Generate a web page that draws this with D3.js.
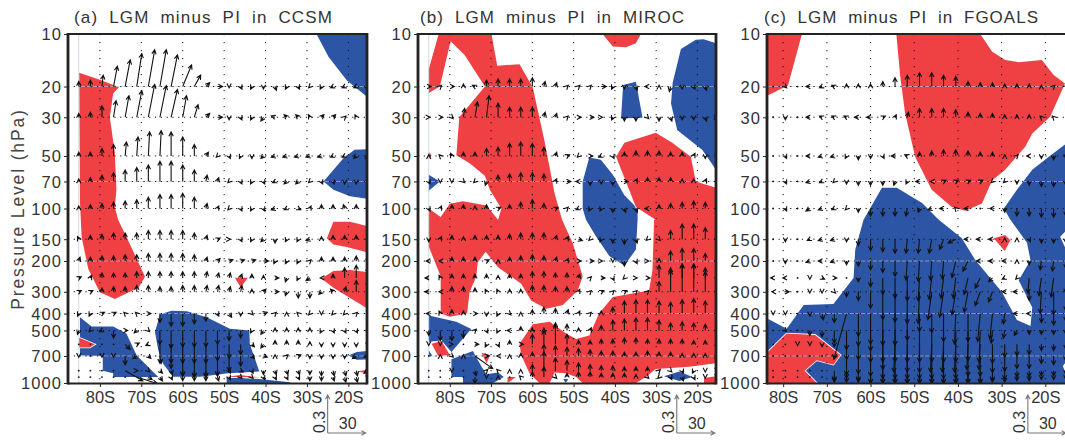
<!DOCTYPE html>
<html><head><meta charset="utf-8">
<script src="https://cdn.jsdelivr.net/npm/d3@7/dist/d3.min.js"></script>
<style>html,body{margin:0;padding:0;background:#fff;overflow:hidden}</style>
</head><body><svg id="chart" width="1065" height="443"></svg>
<script>
const lats=[-85.1,-82.3,-79.5,-76.7,-73.9,-71.1,-68.3,-65.5,-62.8,-60,-57.2,-54.4,-51.6,-48.8,-46,-43.3,-40.5,-37.7,-34.9,-32.1,-29.3,-26.5,-23.7,-20.9,-18.1,-15.3];
const vecLevels=[20,30,50,70,100,150,200,250,300,400,500,600,700,850,925];
const pTicks=[10,20,30,50,70,100,150,200,300,400,500,700,1000];
const latTicks=[-80,-70,-60,-50,-40,-30,-20];
const faintLevels=[20,70,200,400,700];
const titles=["(a) LGM minus PI in CCSM","(b) LGM minus PI in MIROC","(c) LGM minus PI in FGOALS"];

/* polygons: [lat, hPa] */
const aRed=[
[[-85,16.7],[-80,18.3],[-75.4,20.2],[-76.8,21.9],[-77.6,30],[-76.4,48],[-76,78],[-76.4,98],[-75.6,116],[-73.2,152],[-69.1,246],[-70.7,285],[-76.4,330],[-80,302],[-82.8,222],[-84.4,146],[-84.8,93]],
[[-23.6,119],[-19.6,119],[-15.5,126],[-15.5,178],[-20.4,166],[-23.6,161],[-25.2,148]],
[[-15.5,373],[-18.8,334],[-23.6,285],[-26.5,252],[-23.6,228],[-19.6,225],[-15.5,231]],
[[-47.4,249],[-44.3,249],[-46,284]],
[[-85,550],[-81.2,600],[-82.4,625],[-85,625]],
[[-49.4,925],[-46.2,899],[-41.2,930],[-46.2,925]],
[[-17.9,860],[-15.5,840],[-15.5,880]]];
const aBlue=[
[[-27.7,10],[-24.8,13.5],[-20.4,18.4],[-15.5,22.9],[-15.5,10]],
[[-15.5,45.8],[-18.5,46],[-21.2,51.5],[-26,70],[-23.6,78],[-19.6,85],[-15.5,88]],
[[-84.8,420],[-82,475],[-76.8,475],[-73.6,520],[-71.1,695],[-65.9,925],[-76.8,925],[-76.8,880],[-79.3,850],[-79.3,700],[-84.8,695],[-84.8,620]],
[[-65.5,405],[-62.7,385],[-59,388],[-54.2,420],[-48.6,488],[-43.9,500],[-43.8,597],[-41.5,860],[-49,880],[-55.8,920],[-62.3,920],[-64.7,778],[-65.9,650],[-66.7,510]],
[[-49.4,925],[-41.4,950],[-34.1,990],[-34,1000],[-49.4,1000]],
[[-20,695],[-18,665],[-15.5,655],[-15.5,733],[-18,735]]];
const bRed=[
[[-85.1,21.8],[-85.1,16],[-82.7,10],[-69.9,10],[-68.5,15.2],[-63.1,14.9],[-59.9,20.2],[-57.1,40.5],[-54.6,82],[-52.8,116],[-50.2,158],[-47.8,245],[-49,295],[-52.6,357],[-56.6,376],[-60.3,337],[-62.7,270],[-68.3,217],[-71.3,177],[-73.2,203],[-73.6,245],[-75.2,302],[-75.8,400],[-80,417],[-82.2,400],[-82.2,245],[-85.1,165],[-85.1,100],[-82.2,112],[-80,94],[-76.8,91],[-71.1,96],[-68.3,116],[-67.5,100],[-70.3,78],[-71.5,65],[-75.2,55],[-78.4,49.5],[-77.7,30],[-71.5,20],[-76.4,13.2],[-79.8,11],[-82.4,20]],
[[-85.1,47.5],[-84.4,49.5],[-85.1,52]],
[[-43,10],[-40.5,11.8],[-37.3,11.9],[-34.9,11.3],[-33.7,10]],
[[-39.7,50.5],[-37.7,42],[-30.1,36.8],[-26.1,42],[-21.6,50.5],[-20.4,70],[-15.5,76],[-15.5,770],[-22,808],[-30.1,830],[-32.5,925],[-34.9,1000],[-47.8,1000],[-49.4,925],[-51.8,880],[-54.6,870],[-55.8,1000],[-58.3,1000],[-60.7,880],[-62.7,690],[-63.1,595],[-59.9,460],[-55.8,445],[-51.8,520],[-49.4,560],[-46.2,535],[-43.8,398],[-40.5,322],[-31.7,295],[-30.9,226],[-30.5,116],[-30.1,116],[-34.9,98]],
[[-84.4,595],[-82,575],[-80,690],[-82.8,700]],
[[-72.3,670],[-70.2,690],[-71.1,770]],
[[-66,925],[-64,925],[-66,1000]],
[[-18.4,935],[-15.5,915],[-15.5,1000],[-18.4,1000]]];
const bBlue=[
[[-15.5,11.3],[-18.5,10.7],[-20.4,10.8],[-24,12.2],[-26,19],[-26.4,25],[-24.9,35.5],[-18.8,46.2],[-15.5,60]],
[[-38,19.6],[-34.9,18.8],[-33.3,30.2],[-38.5,30.5]],
[[-46.2,51],[-43.4,52.5],[-40.5,64],[-37.7,84],[-34.5,100],[-34.5,116],[-34.9,172],[-37.7,212],[-41.3,188],[-44.6,144],[-47,116],[-47.8,100],[-47.8,70]],
[[-85.1,64],[-82.4,70],[-85.1,79]],
[[-85.1,410],[-78.4,445],[-74.8,490],[-79.6,665],[-82,570],[-85.1,580]],
[[-85.1,650],[-84.2,700],[-85.1,700]],
[[-79.6,730],[-74.4,655],[-72.3,808],[-71.1,890],[-68.3,870],[-66.9,925],[-69.5,1000],[-76.8,1000],[-76.8,925],[-79.6,925]],
[[-52.5,950],[-51.3,950],[-51.9,1000]],
[[-28.1,915],[-24.4,860],[-21.2,925],[-24.4,975]]];
const cRed=[
[[-83.7,10],[-75.7,10],[-78.9,19.7],[-83.7,22.6]],
[[-54.1,10],[-34.9,10],[-32.2,12.6],[-29.2,14.1],[-26.1,14.5],[-20.8,14.1],[-18.1,17.2],[-15.5,19.2],[-18.9,29.8],[-23,37.2],[-24.6,44.3],[-29.2,60],[-32.2,69],[-34.5,93.5],[-38.3,103],[-41.4,98],[-46,78],[-49.8,50.5],[-52.1,28.5],[-53.2,17.6]],
[[-31.8,148],[-29.2,142],[-28,152],[-29.3,175]],
[[-83.7,670],[-79.2,520],[-72.7,530],[-66.9,690],[-68.5,785],[-72.3,740],[-75.1,850],[-72.3,1000],[-83.7,1000]]];
const cBlue=[
[[-57.4,76],[-54,76],[-48.2,93],[-44.4,116],[-39.1,148],[-36,198],[-29.9,302],[-26.5,435],[-23.4,472],[-23,369],[-26.1,258],[-23.4,198],[-24.2,157],[-28,116],[-29.5,100],[-26.5,78],[-23,60],[-19.2,50.5],[-15.5,43],[-15.5,1000],[-83.7,1000],[-83.7,660],[-83.4,430],[-79.2,488],[-75.3,357],[-68.5,353],[-63.9,250],[-63.5,172],[-61.6,116]]];
const cWhite=[[[-16.6,145],[-15.5,136],[-15.5,167]],[[-16,800],[-15.5,770],[-15.5,860]]];

/* arrows: w in 0.01 units, u in the unit of the "30" key; one row per level */
const aW=[
[4,5,9,16,21,26,29,29,25,17,9,3,0,-1,-2,-2,-2,-3,-2,-2,-1,-2,-1,-1,-1,-1],
[3,4,9,13,17,21,26,25,22,17,10,3,0,-2,-2,-2,-3,1,2,2,2,2,2,1,2,2],
[3,3,6,9,11,15,19,20,19,15,9,3,-1,-2,-2,-2,-2,-1,-1,-1,-1,-1,-1,-1,-2,-2],
[2,3,5,7,9,11,13,16,16,13,9,5,3,-1,-2,-2,-2,-1,-2,-2,-1,-2,-2,-2,-2,-2],
[2,3,4,5,6,7,9,11,11,12,9,4,2,-1,-2,-2,-2,-1,-1,-1,2,3,3,3,3,3],
[2,3,4,5,5,5,7,7,7,7,5,3,1,0,-2,-2,-2,-3,-2,-2,-1,2,3,3,3,3],
[3,3,4,4,5,5,6,6,6,6,5,3,2,1,1,1,0,-2,-2,-2,1,3,3,3,4,4],
[1,2,4,4,4,5,5,5,5,5,5,5,4,4,3,3,2,0,-3,-2,-2,0,3,8,10,9],
[1,1,3,4,4,5,5,4,4,5,5,5,5,4,5,2,2,0,-3,-5,-5,-2,2,4,9,9],
[-2,-2,1,1,1,1,0,-7,-10,-10,-8,-6,-2,-3,-2,-1,1,1,1,1,-1,-1,-1,-1,1,0],
[-3,-1,-1,-6,0,-2,-1,-11,-14,-13,-13,-13,-11,-8,-6,-2,-3,2,2,2,2,-2,-2,-2,-2,-2],
[0,0,0,0,-4,1,-1,-15,-15,-15,-15,-15,-13,-11,-8,-2,-3,3,3,3,2,-2,-2,-2,-2,-2],
[-1,0,-1,-1,-7,-2,-2,-6,-10,-16,-17,-17,-16,-12,-8,-2,-1,1,1,1,-2,-2,-2,-2,-2,-1],
[0,0,0,0,-8,0,-1,-2,-3,-4,-5,-5,-4,-2,-1,-2,-3,-3,-3,-3,-3,-4,-4,-4,-4,-2],
[0,0,0,0,0,-5,-2,-3,-2,-3,-3,-3,-3,-2,-1,-1,-2,-2,-2,-2,-3,-3,-3,-4,-4,-2]];
const aU=[
[0,0,1,3,4,4,5,5,5,7,5,3,4,0,1,-1,0,1,-1,1,-1,-1,-2,-2,-2,-2],
[0,0,0,2,3,4,5,5,5,3,3,3,4,0,1,-1,-2,-3,-2,-2,-1,2,2,1,-1,-1],
[0,0,0,0,1,1,1,1,0,0,0,2,-1,1,-1,0,-2,-3,-3,-3,-3,-3,-2,-2,-2,-2],
[0,0,0,0,0,0,0,0,0,0,0,1,1,-1,1,-1,1,-2,-2,-2,-1,1,1,0,0,-1],
[0,0,0,0,0,0,0,0,0,0,0,1,1,-1,1,-1,1,-3,-2,2,1,0,0,-1,0,0],
[-1,0,0,0,0,0,0,0,0,0,0,1,2,1,1,-1,-2,0,-1,-1,-3,0,0,0,0,0],
[1,0,0,0,0,0,0,0,0,0,0,1,2,3,3,3,4,-1,-1,-1,1,0,0,0,0,0],
[2,1,0,0,0,0,0,0,0,0,0,1,1,1,1,0,0,3,-1,-1,-3,-1,0,0,0,0],
[2,2,0,0,0,0,0,0,0,0,0,1,1,1,1,0,2,3,-1,0,0,-2,-2,1,0,0],
[-1,-1,2,2,-1,-1,2,0,0,0,0,0,1,2,0,1,3,1,0,-1,-1,0,-1,-1,1,0],
[-1,-1,-2,0,2,-2,1,0,0,0,0,0,0,0,0,-1,-2,0,0,0,0,-1,1,1,1,1],
[0,0,0,0,4,2,-2,0,0,0,0,0,0,0,0,2,-2,0,0,0,0,0,0,0,0,0],
[0,0,0,0,0,-3,2,1,0,0,0,0,0,0,0,2,3,0,1,2,0,0,0,0,-3,-3],
[0,0,0,0,14,1,1,2,1,0,0,0,0,1,2,1,0,1,1,1,0,0,1,1,1,-3],
[0,0,0,0,0,16,3,2,1,0,0,0,1,1,1,1,1,1,1,1,0,0,1,1,1,0]];
const bW=[
[0,1,0,2,1,5,6,6,6,7,4,3,1,1,1,0,-2,-2,-3,0,1,-4,-2,-2,-3,-2],
[0,0,-1,7,12,17,11,8,8,8,4,3,1,0,0,0,-2,-3,-3,-1,-3,-3,-2,-2,-3,0],
[1,1,2,3,3,6,7,10,11,10,7,3,1,-1,0,-1,-2,3,4,4,4,3,3,2,-2,-1],
[-2,-1,-1,-1,-1,-3,5,6,7,7,6,2,0,0,-3,-2,-3,0,2,3,3,3,2,2,2,0],
[-2,2,3,3,2,3,1,3,5,7,4,1,1,-1,-2,-2,-3,-3,-3,0,3,4,5,6,5,3],
[-2,2,3,2,3,3,3,4,5,5,5,3,2,-1,-1,-2,-3,-4,-3,-1,-1,7,12,12,9,3],
[0,0,3,3,3,1,1,3,4,5,4,3,2,0,0,0,-1,-4,-2,0,2,8,10,10,6,3],
[0,2,3,3,3,3,2,3,3,5,5,4,4,3,1,0,-2,-1,0,0,10,8,11,11,8,3],
[0,0,4,4,3,2,2,2,2,5,5,4,4,2,1,1,1,1,1,1,8,17,22,22,16,3],
[0,2,3,2,0,-2,-2,-1,1,3,5,4,3,2,1,2,5,10,11,11,10,9,11,12,10,3],
[-4,-8,-8,-6,1,-2,-2,0,3,2,2,5,5,2,2,4,8,9,10,10,8,6,7,6,5,3],
[-1,-1,0,0,0,-2,-2,3,0,8,11,17,8,3,3,4,4,5,5,4,4,4,4,3,3,2],
[0,1,-1,1,-10,0,0,1,2,3,9,8,7,6,5,4,4,3,3,4,3,3,2,2,2,1],
[0,0,-1,0,-4,1,1,1,1,5,15,10,8,6,5,4,4,3,3,3,1,-1,-2,-2,-1,-1],
[0,0,0,0,-5,-1,1,0,1,4,8,-1,3,4,4,3,3,3,2,-1,-1,-2,-3,-2,-1,-1]];
const bU=[
[2,1,2,0,-2,0,0,0,0,0,1,1,1,1,1,4,-1,0,1,-2,0,-1,0,1,1,0],
[1,2,1,1,2,2,0,0,0,0,1,1,1,2,3,1,-1,0,0,1,0,1,0,0,1,1],
[0,-1,-1,0,0,0,0,0,0,0,0,1,2,-1,2,-2,1,0,0,0,0,0,0,1,0,0],
[1,0,0,1,-1,-1,0,0,0,0,0,1,3,-2,0,0,0,3,1,0,0,0,0,0,1,0],
[1,1,0,0,0,0,2,0,0,0,0,2,1,-2,-1,-1,0,1,1,-2,0,0,0,0,0,0],
[0,1,0,0,0,0,0,0,0,0,0,1,1,3,-1,-1,0,0,1,-1,1,0,0,0,0,0],
[-2,-1,0,0,0,2,0,0,0,0,0,1,1,2,3,1,0,0,1,1,0,0,0,0,0,0],
[-3,-1,0,0,0,0,0,0,0,0,0,0,0,1,1,3,1,-1,1,2,0,0,0,0,0,0],
[-3,-1,0,0,0,-1,-1,0,0,0,0,0,0,1,1,2,1,2,1,1,0,0,0,0,0,0],
[-2,-1,0,0,2,0,-1,1,0,0,0,0,1,1,1,0,0,0,0,0,0,0,0,0,0,0],
[0,0,0,0,1,1,-1,-2,0,0,0,0,0,0,1,0,0,0,0,0,0,0,0,0,0,0],
[0,0,1,0,3,-1,1,0,2,0,0,0,0,0,0,0,0,0,0,0,0,0,0,0,0,0],
[0,0,1,0,14,2,-1,0,0,0,0,0,0,0,0,0,0,0,0,0,0,0,0,0,0,0],
[0,0,0,0,1,1,-1,0,0,0,0,0,0,0,0,0,0,0,0,0,1,1,1,-1,0,0],
[0,0,0,0,0,0,0,0,-1,0,0,1,0,0,0,0,0,0,0,1,-1,1,1,1,0,0]];
const cW=[
[0,0,-1,0,0,-1,1,2,2,2,4,7,9,11,11,9,8,4,3,3,2,2,2,1,1,1],
[0,0,-2,0,0,1,1,1,0,0,1,2,4,7,7,7,6,4,3,3,2,2,2,1,1,0],
[0,0,-2,0,0,-1,-1,-2,-3,-2,-2,0,1,3,4,5,5,4,3,3,1,1,0,-2,-3,-2],
[0,0,-2,0,-1,-1,-1,-2,-3,-3,-3,-3,-2,0,0,1,1,1,1,-1,-1,-2,-3,-4,-4,-3],
[0,0,-2,0,-2,-1,-1,-1,-3,-6,-6,-6,-6,-3,-1,0,1,0,0,0,-3,-6,-6,-7,-7,-6],
[0,0,-2,0,-1,-1,-1,-2,-5,-9,-10,-11,-11,-11,-11,-8,-3,0,0,0,1,1,-2,-3,-3,-3],
[0,0,-2,0,-1,0,-1,-3,-4,-7,-9,-12,-15,-16,-15,-14,-13,-8,0,0,0,1,-3,-7,-8,-6],
[0,0,0,0,-1,-1,0,0,-3,-7,-13,-16,-18,-18,-17,-16,-16,-13,-8,-3,-1,-1,-12,-14,-15,-12],
[0,0,0,0,-1,-1,-1,-4,-7,-13,-22,-24,-25,-25,-22,-20,-18,-16,-11,-8,0,0,-7,-17,-18,-15],
[0,-1,-1,0,-2,-5,-7,-36,-18,-24,-25,-25,-21,-14,-15,-22,-24,-22,-22,-20,-8,0,0,-7,-9,-6],
[0,0,-1,0,-4,-5,-10,-15,-12,-16,-25,-25,-25,-25,-25,-25,-25,-24,-25,-10,-6,-4,-3,-3,-3,-3],
[0,0,0,-1,-1,-2,-2,-12,-12,-14,-20,-22,-22,-22,-22,-22,-22,-20,-20,-15,-10,-9,-8,-5,-5,-4],
[0,0,0,0,0,0,-2,-15,-14,-16,-18,-18,-18,-18,-18,-18,-18,-16,-16,-13,-12,-10,-10,-6,-7,-4],
[0,0,0,0,0,0,-8,-6,-8,-10,-10,-10,-10,-10,-10,-10,-10,-10,-10,-8,-7,-5,-5,-4,-4,-3],
[0,0,0,0,0,0,-4,-4,-4,-5,-5,-5,-5,-5,-5,-5,-5,-5,-5,-4,-4,-3,-3,-2,-2,-2]];
const cU=[
[0,0,1,0,-3,-2,-2,0,0,0,0,0,0,0,0,0,0,0,0,0,0,0,0,0,1,1],
[0,0,0,0,-3,-2,-2,-2,-3,-3,2,1,1,0,0,0,0,0,0,0,0,0,0,-1,-1,0],
[0,0,1,0,-3,-3,-3,-1,0,0,1,-3,-2,0,0,0,0,0,0,0,0,1,-2,0,0,0],
[0,0,1,0,-3,-2,-1,0,0,0,0,-1,-1,-3,-1,2,2,2,2,-1,-1,0,0,0,0,0],
[0,0,1,0,-3,-3,-2,-1,0,0,0,0,-1,-1,-3,-3,-1,-3,0,-2,0,0,0,0,0,0],
[0,0,0,0,-2,-3,-3,0,0,0,0,0,-1,-1,-2,-3,-6,-3,-3,-3,0,0,1,0,0,0],
[0,0,0,0,-3,-3,-3,0,0,0,0,0,-1,-1,-1,-1,-3,-4,-3,-3,-2,0,0,-1,-1,0],
[0,-2,-2,0,0,2,2,0,0,0,0,0,0,-1,-2,-2,-2,-3,-4,-3,-2,-1,-1,-2,-2,0],
[0,-1,3,0,0,0,1,0,0,0,0,0,0,-1,-3,-3,-3,-3,-4,-3,-2,-3,0,-1,0,0],
[0,0,0,0,0,1,0,-10,0,0,0,0,0,0,0,0,-1,0,-2,-2,-1,-3,-2,0,0,0],
[0,0,1,0,0,0,0,0,0,0,0,0,0,0,0,0,0,0,-1,-1,-1,-2,0,0,0,0],
[0,0,0,0,0,0,0,0,0,0,0,-1,0,0,-1,-1,-1,-1,-1,0,0,0,0,0,0,0],
[0,0,0,0,0,0,0,0,0,0,0,0,0,0,0,0,0,0,0,0,0,0,0,0,0,0],
[0,0,0,0,0,0,0,0,0,0,0,0,0,0,0,0,0,0,0,0,0,0,0,0,0,0],
[0,0,0,0,0,0,0,0,0,0,0,0,0,0,0,0,0,0,0,0,0,0,0,0,0,0]];

const RED="#EF4044",BLUE="#2C55A5",INK="#222";
const svg=d3.select("#chart");
const y=d3.scaleLog().domain([10,1000]).range([34,383]);
const vec=d3.scaleLinear().domain([0,30]).range([0,38]);

function arrow(g,x0,y0,x1,y1,col,sw){
  const a=Math.atan2(y1-y0,x1-x0),L=4.8,t=0.47;
  const p=`M${x0},${y0}L${x1},${y1}M${x1-L*Math.cos(a-t)},${y1-L*Math.sin(a-t)}L${x1},${y1}L${x1-L*Math.cos(a+t)},${y1-L*Math.sin(a+t)}`;
  g.append("path").attr("d",p).attr("fill","none").attr("stroke",col).attr("stroke-width",sw);
}

function panel(i,cfg){
  const x=d3.scaleLinear().domain(cfg.dom).range(cfg.rng);
  const clipId="clip"+i;
  svg.append("clipPath").attr("id",clipId).append("rect")
    .attr("x",cfg.rng[0]).attr("y",34).attr("width",cfg.rng[1]-cfg.rng[0]).attr("height",349);
  const g=svg.append("g").attr("clip-path",`url(#${clipId})`);
  const line=d3.line().x(d=>x(d[0])).y(d=>y(d[1])).curve(d3.curveLinear);
  g.selectAll(".b").data(cfg.blue).enter().append("path").attr("d",d=>line(d)+"Z").attr("fill",BLUE);
  g.selectAll(".w").data(cfg.white||[]).enter().append("path").attr("d",d=>line(d)+"Z").attr("fill","#fff");
  g.selectAll(".r").data(cfg.red).enter().append("path").attr("d",d=>line(d)+"Z").attr("fill",RED).attr("stroke","#fff").attr("stroke-width",1.6).attr("paint-order","stroke");
  // faint solid lines
  g.selectAll(".fl").data(faintLevels).enter().append("line").attr("x1",x(-85.1)).attr("x2",cfg.rng[1])
    .attr("y1",d=>y(d)).attr("y2",d=>y(d)).attr("stroke","#c3cfe2").attr("stroke-width",0.7).attr("stroke-opacity",0.8);
  g.append("line").attr("x1",x(-85.1)).attr("x2",x(-85.1)).attr("y1",34).attr("y2",383).attr("stroke","#c3cfe2").attr("stroke-width",0.8);
  // dotted grid
  g.selectAll(".dh").data(pTicks.slice(1,-1)).enter().append("line").attr("x1",cfg.rng[0]).attr("x2",cfg.rng[1])
    .attr("y1",d=>y(d)).attr("y2",d=>y(d)).attr("stroke","#111").attr("stroke-width",1).attr("stroke-dasharray","1.2 4.6");
  g.selectAll(".dv").data(latTicks).enter().append("line").attr("x1",d=>x(d)).attr("x2",d=>x(d))
    .attr("y1",34).attr("y2",383).attr("stroke","#111").attr("stroke-width",1).attr("stroke-dasharray","1.2 6.8");
  // arrows
  const A=g.append("g");
  vecLevels.forEach((lev,r)=>{
    lats.forEach((la,c)=>{
      const w=cfg.w[r][c],u=cfg.u[r][c],x0=x(la),y0=y(lev);
      if(w===0&&u===0){A.append("circle").attr("cx",x0).attr("cy",y0).attr("r",0.9).attr("fill","#111");return;}
      const du=u<0?-vec(-u):vec(u),dw=w<0?-vec(-w):vec(w);
      arrow(A,x0,y0,x0+du,y0-dw,"#111",1.1);
    });
  });
  // frame
  svg.append("path").attr("d",`M${cfg.rng[0]},34H${cfg.rng[1]}`).attr("stroke",INK).attr("stroke-width",2);
  svg.append("path").attr("d",`M${cfg.rng[0]},383.5H${cfg.rng[1]}`).attr("stroke",INK).attr("stroke-width",2.2);
  svg.append("path").attr("d",`M${cfg.rng[0]},33V384.6`).attr("stroke",INK).attr("stroke-width",2.8);
  if(cfg.rng[1]<1060) svg.append("path").attr("d",`M${cfg.rng[1]},33V384.6`).attr("stroke",INK).attr("stroke-width",2.8);
  // axes
  const ay=svg.append("g").attr("transform",`translate(${cfg.rng[0]-1},0)`)
    .call(d3.axisLeft(y).tickValues(pTicks).tickFormat(d3.format("d")).tickSize(3).tickPadding(2));
  ay.select(".domain").remove();
  ay.selectAll("line").attr("stroke",INK);
  ay.selectAll("text").attr("font-family","'Liberation Sans'").attr("font-size",16.5).attr("fill","#333").style("letter-spacing","1.1px").attr("dy","0.36em");
  const ax=svg.append("g").attr("transform","translate(0,384)")
    .call(d3.axisBottom(x).tickValues(latTicks).tickFormat(d=>(-d)+"S").tickSize(3).tickPadding(4));
  ax.select(".domain").remove();
  ax.selectAll("line").attr("stroke",INK);
  ax.selectAll("text").attr("font-family","'Liberation Sans'").attr("font-size",16.5).attr("fill","#333");
  // title
  svg.append("text").attr("x",cfg.tx[0]).attr("y",23).attr("textLength",cfg.tx[1]-cfg.tx[0]).attr("lengthAdjust","spacing")
    .attr("font-family","'Liberation Sans'").attr("font-size",17).attr("fill","#333").style("word-spacing","5px").text(titles[i]);
  // reference vector
  const kx=x(cfg.key),ky=433;
  arrow(svg,kx,ky,kx,ky-vec(30),"#777",1.1);
  arrow(svg,kx,ky,kx+vec(30),ky,"#777",1.1);
  svg.append("text").attr("transform",`translate(${kx-3},${ky}) rotate(-90)`)
    .attr("font-family","'Liberation Sans'").attr("font-size",16).attr("fill","#333").text("0.3");
  svg.append("text").attr("x",kx+20).attr("y",ky-4).attr("text-anchor","middle")
    .attr("font-family","'Liberation Sans'").attr("font-size",16).attr("fill","#333").text("30");
}

panel(0,{dom:[-87.7,-15.5],rng:[68,367],red:aRed,blue:aBlue,w:aW,u:aU,tx:[74,332],key:-25});
panel(1,{dom:[-87.7,-15.5],rng:[418,716],red:bRed,blue:bBlue,w:bW,u:bU,tx:[420,684],key:-25});
panel(2,{dom:[-83.7,-15.5],rng:[767,1065],red:cRed,blue:cBlue,white:cWhite,w:cW,u:cU,tx:[764,1038],key:-24});

svg.append("text").attr("transform","translate(24,209) rotate(-90)").attr("text-anchor","middle")
  .attr("font-family","'Liberation Sans'").attr("font-size",17.5).attr("fill","#444").style("letter-spacing","1.85px").text("Pressure Level (hPa)");
</script></body></html>
